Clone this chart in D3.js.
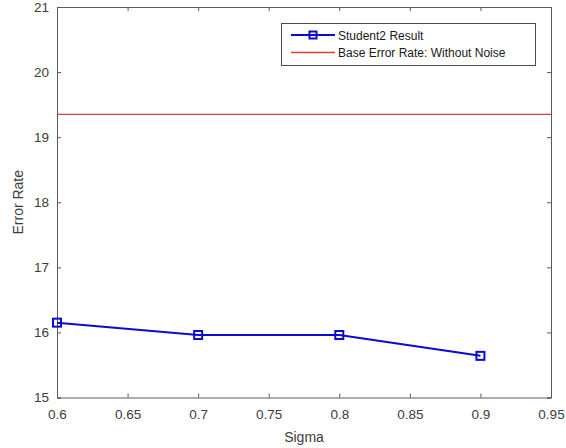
<!DOCTYPE html>
<html>
<head>
<meta charset="utf-8">
<script src="https://cdn.jsdelivr.net/npm/d3@7/dist/d3.min.js"></script>
<style>
  html, body { margin: 0; padding: 0; background: #fff; }
  svg { display: block; font-family: "Liberation Sans", Arial, Helvetica, sans-serif; }
</style>
</head>
<body>
<svg id="chart" width="566" height="448"></svg>
<script>
// Error rate of Student2 against noise sigma, with the no-noise baseline
const sigma = [0.6, 0.7, 0.8, 0.9];
const student2Error = [16.15, 15.96, 15.96, 15.64];
const baseErrorRate = 19.35;
const xTicks = [0.6, 0.65, 0.7, 0.75, 0.8, 0.85, 0.9, 0.95];
const yTicks = [15, 16, 17, 18, 19, 20, 21];
const legendLabels = ["Student2 Result", "Base Error Rate: Without Noise"];

(function draw() {
  const svg = d3.select("#chart");
  const pLeft = 57, pRight = 551, pTop = 7, pBottom = 397.5;
  const axisColor = "#5a5a5a", textColor = "#3c3c3c";

  const x = d3.scaleLinear().domain([0.6, 0.95]).range([pLeft, pRight]);
  const y = d3.scaleLinear().domain([15, 21]).range([pBottom, pTop]);

  // Axes with inward ticks on all four sides
  const tick = 4;
  const xAxisB = d3.axisBottom(x).tickValues(xTicks).tickSize(-tick).tickPadding(12).tickFormat(d => String(d));
  const xAxisT = d3.axisTop(x).tickValues(xTicks).tickSize(-tick).tickFormat("");
  const yAxisL = d3.axisLeft(y).tickValues(yTicks).tickSize(-tick).tickPadding(8).tickFormat(d => String(d));
  const yAxisR = d3.axisRight(y).tickValues(yTicks).tickSize(-tick).tickFormat("");

  function style(g) {
    g.select(".domain").attr("stroke", axisColor).attr("stroke-width", 1);
    g.selectAll(".tick line").attr("stroke", axisColor);
    g.selectAll(".tick text").attr("fill", textColor).style("font-size", "13.5px")
      .style("font-family", "\"Liberation Sans\", Arial, sans-serif");
  }

  svg.append("g").attr("transform", `translate(0,${pBottom})`).call(xAxisB).call(style);
  svg.append("g").attr("transform", `translate(0,${pTop})`).call(xAxisT).call(style);
  svg.append("g").attr("transform", `translate(${pLeft},0)`).call(yAxisL).call(style);
  svg.append("g").attr("transform", `translate(${pRight},0)`).call(yAxisR).call(style);

  // Baseline
  svg.append("line")
    .attr("x1", x(0.6)).attr("x2", x(0.95))
    .attr("y1", y(baseErrorRate)).attr("y2", y(baseErrorRate))
    .attr("stroke", "#d63f3f").attr("stroke-width", 1.3);

  // Student2 series
  const blue = "#0a0ad0";
  const line = d3.line().x((d, i) => x(sigma[i])).y(d => y(d));
  svg.append("path").datum(student2Error)
    .attr("d", line).attr("fill", "none")
    .attr("stroke", blue).attr("stroke-width", 2);

  const m = 8;
  svg.selectAll("rect.marker").data(student2Error).enter().append("rect")
    .attr("class", "marker")
    .attr("x", (d, i) => x(sigma[i]) - m / 2)
    .attr("y", d => y(d) - m / 2)
    .attr("width", m).attr("height", m)
    .attr("fill", "none").attr("stroke", blue).attr("stroke-width", 2);

  // Axis titles
  svg.append("text").attr("x", (pLeft + pRight) / 2).attr("y", 442)
    .attr("text-anchor", "middle").attr("fill", textColor)
    .style("font-size", "14px").text("Sigma");
  svg.append("text")
    .attr("transform", `translate(23,${(pTop + pBottom) / 2}) rotate(-90)`)
    .attr("text-anchor", "middle").attr("fill", textColor)
    .style("font-size", "14px").text("Error Rate");

  // Legend
  const lg = svg.append("g");
  lg.append("rect").attr("x", 281.5).attr("y", 23.5).attr("width", 254).attr("height", 42)
    .attr("fill", "#fff").attr("stroke", "#4a4a4a").attr("stroke-width", 1);
  const rowY = [35, 52.5];
  const lm = 7;
  lg.append("line").attr("x1", 291).attr("x2", 335).attr("y1", rowY[0]).attr("y2", rowY[0])
    .attr("stroke", blue).attr("stroke-width", 2);
  lg.append("rect").attr("x", 313 - lm / 2).attr("y", rowY[0] - lm / 2).attr("width", lm).attr("height", lm)
    .attr("fill", "none").attr("stroke", blue).attr("stroke-width", 2);
  lg.append("line").attr("x1", 291).attr("x2", 335).attr("y1", rowY[1]).attr("y2", rowY[1])
    .attr("stroke", "#d63f3f").attr("stroke-width", 1.3);
  lg.selectAll("text.lab").data(legendLabels).enter().append("text")
    .attr("class", "lab")
    .attr("x", 338).attr("y", (d, i) => rowY[i] + 4.5)
    .attr("fill", "#1a1a1a").style("font-size", "12px").text(d => d);
})();
</script>
</body>
</html>
